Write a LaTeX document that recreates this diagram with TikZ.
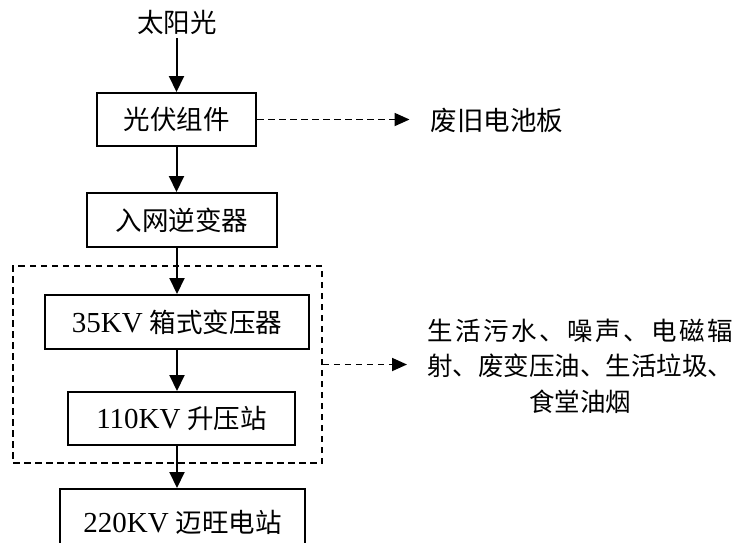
\documentclass[tikz,border=0pt]{standalone}
\usepackage{fontspec}
\setmainfont{Liberation Serif}
\newfontfamily\cjk{Noto Sans CJK SC}
\usetikzlibrary{arrows.meta}
\newcommand{\lat}[1]{{\fontsize{29}{35.5}\selectfont #1}}
\begin{document}
\begin{tikzpicture}[x=1pt,y=-1pt,
  every node/.style={font=\fontsize{26.5}{35.5}\selectfont},
  box/.style={draw,line width=2pt,inner sep=0pt},
  grpbox/.style={draw,line width=1.8pt,dash pattern=on 6.5pt off 4.5pt,inner sep=0pt},
  arr/.style={line width=2pt,-{Triangle[length=16pt,width=15pt]}},
  darr/.style={line width=1.8pt,dash pattern=on 6.5pt off 4.5pt,-{Triangle[length=15pt,width=13pt]}}]
\useasboundingbox (0,0) rectangle (739,542);
\node (sun) at (177,22) {\cjk 太阳光};
\node[box,minimum width=159pt,minimum height=53pt] (pv) at (176.5,119.5) {\cjk 光伏组件};
\node[box,minimum width=190pt,minimum height=54pt] (inv) at (182,220) {\cjk 入网逆变器};
\node[grpbox,minimum width=309pt,minimum height=197pt] (grp) at (167.5,364.5) {};
\node[box,minimum width=264pt,minimum height=54pt] (t35) at (177,322) {\lat{35KV} {\cjk 箱式变压器}};
\node[box,minimum width=227pt,minimum height=53pt] (t110) at (181.5,418.5) {\lat{110KV} {\cjk 升压站}};
\node[box,minimum width=245pt,minimum height=66pt] (t220) at (182.5,522) {\lat{220KV} {\cjk 迈旺电站}};
\node[inner ysep=0pt,inner xsep=21pt] (waste) at (497,120) {\cjk 废旧电池板};
\node[anchor=west,inner ysep=0pt,inner xsep=20pt,align=center,font=\fontsize{25.5}{35.5}\selectfont] (env) at (407,366)
  {\cjk\makebox[306pt][s]{生\hfill 活\hfill 污\hfill 水\hfill 、\hfill 噪\hfill 声\hfill 、\hfill 电\hfill 磁\hfill 辐}\\
   \cjk 射、废变压油、生活垃圾、\\
   \cjk 食堂油烟};
\draw[arr] (sun.south -| pv.north) -- (pv.north);
\draw[arr] (pv.south) -- (pv.south |- inv.north);
\draw[arr] (inv.south -| t35.north) -- (t35.north);
\draw[arr] (t35.south) -- (t35.south |- t110.north);
\draw[arr] (t110.south -| t35.south) -- (t220.north -| t35.south);
\draw[darr] (pv.east) -- (pv.east -| waste.west);
\draw[darr] (grp.east) -- (grp.east -| env.west);
\end{tikzpicture}
\end{document}
